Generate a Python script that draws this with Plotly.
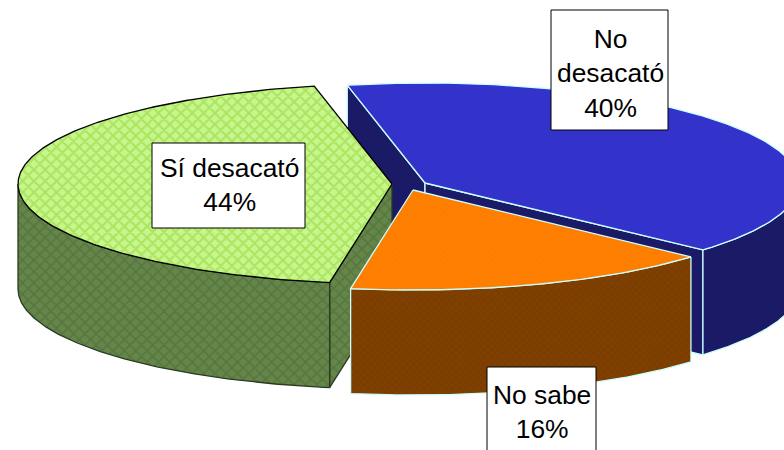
import numpy as np
import plotly.graph_objects as go

categories = ["No desacató", "No sabe", "Sí desacató"]
values = [40, 16, 44]
label_lines = ["No<br>desacató", "No sabe", "Sí desacató"]

top_colors = ["#3333CC", "#FF8000", "#C4F88C"]
wall_colors = ["#1A1A66", "#804000", "#64864A"]
line_colors = ["#CCFFFF", "#CCFFFF", "#000000"]
pattern_fg = [None, "#F07000", "#99CC33"]
wall_pattern_fg = [None, "#703800", "#4A6634"]

# chart geometry (pixels of the 784x450 page)
first_angle = -12.0
rx, ry, depth = 374.0, 100.0, 105.0
centers = [(425.0, 183.0), (413.0, 190.0), (392.0, 184.0)]
label_boxes = [(551, 10, 668, 130), (487, 367, 596, 460), (152, 143, 305, 228)]
label_centers = [(610, 73), (542, 412), (229, 185)]

fractions = np.array(values) / sum(values) * 360.0
starts = first_angle + np.concatenate([[0.0], np.cumsum(fractions)[:-1]])
ends = starts + fractions


def rim(c, a0, a1):
    t = np.radians(np.linspace(a0, a1, max(int(abs(a1 - a0) * 2), 2)))
    return c[0] + rx * np.sin(t), c[1] - ry * np.cos(t)


def poly(fig, xs, ys, color, line, fg=None, size=8, solidity=0.35, width=1.3):
    kw = {}
    if fg:
        kw["fillpattern"] = dict(shape="x", bgcolor=color, fgcolor=fg, size=size, solidity=solidity)
    fig.add_trace(go.Scatter(
        x=list(xs) + [xs[0]], y=list(ys) + [ys[0]], mode="lines", fill="toself",
        fillcolor=color, line=dict(color=line, width=width), hoverinfo="skip",
        showlegend=False, **kw))


def wall(fig, xs, ys, i):
    xs, ys = np.asarray(xs), np.asarray(ys)
    X = np.concatenate([xs, xs[::-1]])
    Y = np.concatenate([ys, ys[::-1] + depth])
    poly(fig, X, Y, wall_colors[i], "#2A3A20" if i == 2 else line_colors[i],
         wall_pattern_fg[i], size=8 if i == 2 else 5, solidity=0.35)


fig = go.Figure()
# draw back to front: blue, green, orange
for i in [0, 2, 1]:
    c = centers[i]
    a0, a1 = starts[i], ends[i]
    ax, ay = rim(c, a0, a1)
    # cut faces seen from the viewer
    if i == 0:
        wall(fig, [ax[0], c[0]], [ay[0], c[1]], i)
        wall(fig, [c[0], ax[-1]], [c[1], ay[-1]], i)
        wx, wy = rim(c, 90, a1)
        wall(fig, wx, wy, i)
    elif i == 2:
        wall(fig, [c[0], ax[0]], [c[1], ay[0]], i)
        wx, wy = rim(c, a0, 270)
        wall(fig, wx, wy, i)
    else:
        wall(fig, ax, ay, i)
    poly(fig, np.concatenate([[c[0]], ax]), np.concatenate([[c[1]], ay]),
         top_colors[i], line_colors[i], pattern_fg[i],
         size=8 if i == 2 else 4, solidity=0.45 if i == 2 else 0.2)

for lab, v, (x0, y0, x1, y1), (tx, ty) in zip(label_lines, values, label_boxes, label_centers):
    fig.add_shape(type="rect", x0=x0, y0=y0, x1=x1, y1=y1, xref="x", yref="y", layer="above",
                  fillcolor="#FFFFFF", line=dict(color="#000000", width=1))
    fig.add_annotation(
        x=tx, y=ty, xref="x", yref="y", showarrow=False,
        text=f"{lab}<br>{v}%", align="center", borderpad=0,
        font=dict(family="Liberation Sans, Arial", size=26.4, color="#000000"))

fig.update_layout(
    width=784, height=450, margin=dict(l=0, r=0, t=0, b=0),
    paper_bgcolor="#FFFFFF", plot_bgcolor="#FFFFFF", showlegend=False,
    xaxis=dict(range=[0, 784], visible=False, fixedrange=True),
    yaxis=dict(range=[450, 0], visible=False, fixedrange=True),
)
fig.write_html(
    "out.html",
    config={"displayModeBar": False},
    post_script="document.body.style.margin='0';document.documentElement.style.overflow='hidden';",
)
